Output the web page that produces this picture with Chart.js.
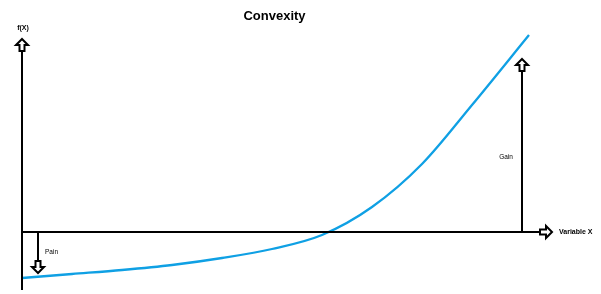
<!DOCTYPE html>
<html><head><meta charset="utf-8">
<script src="https://cdn.jsdelivr.net/npm/chart.js@4"></script>
<style>html,body{margin:0;padding:0;background:#fff}canvas{display:block}</style>
</head><body>
<canvas id="c" width="601" height="294"></canvas>
<script>
// Curve f(X): x measured from the vertical axis, y measured from the horizontal axis
const curveX = [0, 50, 100, 150, 200, 250, 300, 350, 400, 450, 507];
const curveY = [-46, -42, -38, -33, -26, -17, -3, 25, 68, 127, 197];
// Axes extents
const xAxisRange = [0, 530];      // horizontal axis, ends at arrow tip
const yAxisRange = [-58, 193];    // vertical axis, ends at arrow tip
// Pain / Gain markers
const painX = 16, painTip = -41;
const gainX = 500, gainTip = 173;
const labels = ['Convexity', 'f(X)', 'Pain', 'Gain', 'Variable X'];

const titleSize = 13, titlePadTop = 9, titlePadBottom = 0;
const titleH = titlePadTop + titleSize * 1.2 + titlePadBottom;
const padRight = 52;

function line(pts, color, width) {
  return { data: pts, borderColor: color, borderWidth: width, pointRadius: 0, fill: false, tension: 0, borderCapStyle: 'butt', clip: false };
}

const curve = curveX.map((x, i) => ({ x, y: curveY[i] }));

function arrowHead(ctx, x, y, dir) {
  ctx.save();
  ctx.translate(x, y);
  ctx.rotate({ up: 0, down: Math.PI, right: Math.PI / 2 }[dir]);
  ctx.beginPath();
  ctx.moveTo(0, 0); ctx.lineTo(6, 6); ctx.lineTo(2.5, 6); ctx.lineTo(2.5, 12);
  ctx.lineTo(-2.5, 12); ctx.lineTo(-2.5, 6); ctx.lineTo(-6, 6); ctx.closePath();
  ctx.fillStyle = '#fff'; ctx.fill();
  ctx.lineWidth = 2; ctx.strokeStyle = '#000'; ctx.lineJoin = 'miter'; ctx.stroke();
  ctx.restore();
}

const decor = {
  id: 'decor',
  afterDatasetsDraw(chart) {
    const ctx = chart.ctx, xs = chart.scales.x, ys = chart.scales.y;
    const px = v => xs.getPixelForValue(v), py = v => ys.getPixelForValue(v);
    arrowHead(ctx, px(0), py(yAxisRange[1]), 'up');
    arrowHead(ctx, px(xAxisRange[1]), py(0), 'right');
    arrowHead(ctx, px(painX), py(painTip), 'down');
    arrowHead(ctx, px(gainX), py(gainTip), 'up');
    ctx.save();
    ctx.fillStyle = '#000';
    ctx.textBaseline = 'middle';
    ctx.font = 'bold 7px "Liberation Sans", Arial, sans-serif';
    ctx.textAlign = 'center';
    ctx.fillText(labels[1], px(1), py(204));
    ctx.font = '6.5px "Liberation Sans", Arial, sans-serif';
    ctx.textAlign = 'left';
    ctx.fillText(labels[2], px(23), py(-20));
    ctx.textAlign = 'center';
    ctx.fillText(labels[3], px(484), py(75));
    ctx.font = 'bold 7px "Liberation Sans", Arial, sans-serif';
    ctx.textAlign = 'left';
    ctx.fillText(labels[4], px(537), py(0));
    ctx.restore();
  }
};

new Chart(document.getElementById('c'), {
  type: 'scatter',
  data: {
    datasets: [
      line([{ x: xAxisRange[0], y: 0 }, { x: xAxisRange[1], y: 0 }], '#000', 2),
      line([{ x: 0, y: yAxisRange[0] }, { x: 0, y: yAxisRange[1] }], '#000', 2),
      line([{ x: painX, y: 0 }, { x: painX, y: painTip }], '#000', 2),
      line([{ x: gainX, y: 0 }, { x: gainX, y: gainTip }], '#000', 2),
      Object.assign(line(curve, '#0fa0e4', 2.3), { cubicInterpolationMode: 'monotone' })
    ]
  },
  options: {
    responsive: false,
    animation: false,
    showLine: true,
    layout: { padding: { left: 0, top: 0, bottom: 0, right: padRight } },
    plugins: {
      legend: { display: false },
      tooltip: { enabled: false },
      title: {
        display: true, text: labels[0], color: '#000',
        font: { family: '"Liberation Sans", Arial, sans-serif', size: titleSize, weight: 'bold', lineHeight: 1.2 },
        padding: { top: titlePadTop, bottom: titlePadBottom }
      }
    },
    scales: {
      x: { type: 'linear', display: false, min: -22, max: -22 + 601 - padRight },
      y: { type: 'linear', display: false, min: -62, max: 232 - titleH }
    }
  },
  plugins: [decor]
});
</script>
</body></html>
